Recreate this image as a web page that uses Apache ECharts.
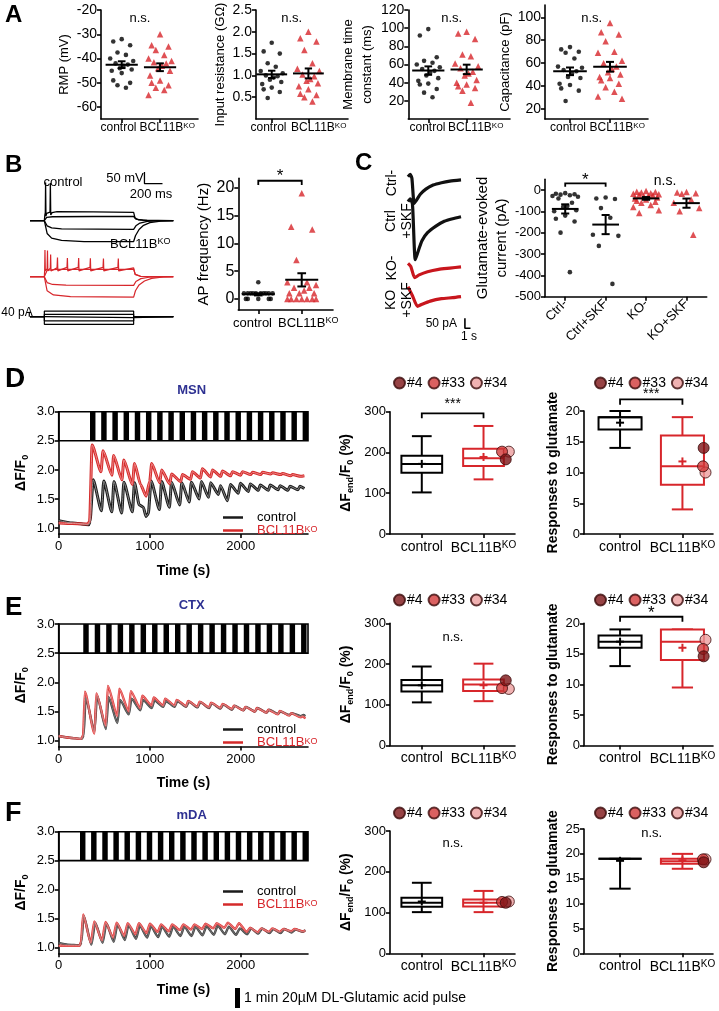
<!DOCTYPE html>
<html><head><meta charset="utf-8">
<script src="https://cdn.jsdelivr.net/npm/echarts@6/dist/echarts.min.js"></script>
<style>html,body{margin:0;padding:0;background:#fff}#c{width:719px;height:1011px}</style>
</head><body><div id="c"></div>
<script>
// ---------------- DATA ----------------
const groupsAB = ['control', 'BCL11B^KO'];
// Panel A
const rmpCtrl = [-32, -33, -34.5, -37.5, -38.5, -40, -41, -42, -42.5, -43, -44, -44.5, -45, -46, -49, -50, -51, -52];
const rmpKO = [-30, -34.5, -35, -36.5, -38.5, -40, -41, -41.5, -42, -43, -44, -45, -47, -49, -50, -51, -52, -53, -55];
const rinCtrl = [1.75, 1.55, 1.5, 1.28, 1.2, 1.1, 1.05, 1.0, 0.98, 0.95, 0.9, 0.85, 0.8, 0.72, 0.68, 0.62, 0.48];
const rinKO = [2.0, 1.85, 1.78, 1.58, 1.28, 1.15, 1.1, 1.02, 0.98, 0.92, 0.88, 0.82, 0.75, 0.68, 0.58, 0.55, 0.5, 0.4];
const tauCtrl = [99, 92, 68, 64, 62, 60, 57, 55, 53, 51, 48, 45, 42, 39, 38, 33, 29, 24];
const tauKO = [96, 94, 88, 71, 69, 61, 58, 56, 52, 50, 48, 43, 40, 38, 36, 34, 31, 18];
const capCtrl = [74, 72, 70, 69, 64, 57, 56, 54, 53, 51, 48, 47, 42, 41, 38, 36, 27];
const capKO = [95, 87, 85, 79, 70, 69, 62, 60, 57, 55, 52, 50, 48, 47, 45, 42, 39, 35, 31, 29];
// Panel B
const apCtrl = [3, 1, 1, 1, 1, 1, 1, 1, 1, 1, 1, 0, 0, 0, 0, 0];
const apKO = [19, 13, 12.5, 7, 3, 3, 2.5, 2, 2, 1.5, 1, 1, 1, 0, 0, 0, 0, 0, 0, 0];
const bCtrlTraces = [
  [[0,-70],[159,-70],[165,-45],[170,-35],[173,95],[177,-50],[185,-38],[222,-33],[226,92],[230,-45],[245,-35],[300,-31],[700,-32],[1150,-34],[1165,-58],[1200,-66],[1300,-69],[1590,-70]],
  [[0,-70],[159,-70],[185,-56],[250,-53],[700,-52],[1150,-52],[1175,-63],[1250,-68],[1590,-70]],
  [[0,-70],[159,-70],[190,-92],[240,-101],[350,-105],[1150,-107],[1175,-92],[1220,-80],[1300,-73],[1420,-70.5],[1590,-70]],
  [[0,-70],[159,-70],[190,-125],[240,-145],[350,-155],[600,-160],[1150,-160],[1170,-135],[1210,-108],[1260,-90],[1330,-78],[1450,-72],[1590,-70]]
];
const bKOTraces = [
  [[0,-70],[159,-70],[163,-40],[166,45],[170,-45],[190,-35],[194,42],[198,-45],[225,-33],[229,25],[233,-45],[300,-32],[305,12],[309,-45],[410,-30],[415,10],[419,-45],[535,-30],[540,10],[544,-45],[665,-30],[670,9],[674,-45],[810,-30],[815,8],[819,-45],[975,-30],[980,8],[984,-45],[1150,-32],[1165,-60],[1220,-68],[1590,-70]],
  [[0,-70],[159,-70],[190,-42],[300,-38],[1150,-38],[1170,-60],[1230,-68],[1590,-70]],
  [[0,-70],[159,-70],[190,-95],[250,-103],[400,-106],[1150,-107],[1175,-90],[1230,-78],[1320,-72],[1590,-70]],
  [[0,-70],[159,-70],[190,-130],[260,-148],[450,-155],[1150,-157],[1170,-130],[1210,-105],[1270,-88],[1350,-77],[1480,-71],[1590,-70]]
];
const bCurrentSteps = [45, 19, -8, -34, -61];   // pA
const bStepOnOff = [159, 1150, 1590];           // ms
const scaleB = {mV: 50, ms: 200, pA: 40};
// Panel C
const cCats = ['Ctrl-', 'Ctrl+SKF', 'KO-', 'KO+SKF'];
const cCtrl = [-15, -18, -20, -22, -25, -28, -32, -40, -60, -75, -80, -95, -100, -120, -135, -148, -200, -385];
const cCtrlSKF = [-35, -40, -42, -85, -130, -210, -215, -262, -440];
const cKO = [-5, -8, -10, -12, -15, -18, -20, -22, -25, -28, -30, -35, -40, -45, -50, -55, -60, -70, -80, -95, -108];
const cKOSKF = [-10, -12, -15, -18, -45, -60, -85, -100, -210];
const cTraceCtrl = [[0,0],[0.4,12],[0.7,-8],[1.1,-133],[1.5,-118],[2.2,-88],[3.2,-62],[4.5,-42],[6,-30],[7.5,-22],[9.5,-16]];
const cTraceCtrlSKF = [[0,0],[0.4,14],[0.8,-12],[1.3,-290],[1.8,-250],[2.5,-195],[3.5,-155],[5,-122],[6.5,-98],[8,-85],[9.5,-75]];
const cTraceKO = [[0,0],[0.5,-15],[1.2,-72],[2,-58],[3.5,-42],[5.5,-30],[7.5,-24],[9.5,-18]];
const cTraceKOSKF = [[0,0],[0.8,-45],[1.7,-98],[2.5,-88],[4,-72],[6,-60],[8,-55],[9.5,-50]];
const scaleC = {pA: 50, s: 1};
// Panels D-F: time courses (s, dF/F0)
const timeTicks = [0, 1000, 2000];
const pulseWidth = 60;
const msnPulses = [344,467,590,713,836,959,1082,1205,1328,1451,1574,1697,1820,1943,2066,2189,2312,2435,2558,2681];
const ctxPulses = [270,396,522,648,774,900,1026,1152,1278,1404,1530,1656,1782,1908,2034,2160,2286,2412,2538,2664];
const mdaPulses = [234,356,479,601,723,846,968,1090,1212,1335,1457,1579,1702,1824,1946,2069,2191,2313,2435,2558,2680];
const msnCtrlTrace = [[0,1.13],[150,1.09],[330,1.06],[345,1.12],[378,1.83],[470,1.3],[495,1.81],[585,1.28],[607,1.8],[693,1.26],[716,1.79],[810,1.28],[833,1.78],[885,1.4],[930,1.36],[960,1.2],[985,1.25],[1015,1.81],[1108,1.32],[1131,1.8],[1217,1.36],[1240,1.79],[1330,1.4],[1353,1.78],[1435,1.45],[1458,1.79],[1545,1.5],[1567,1.8],[1648,1.53],[1669,1.78],[1755,1.58],[1778,1.73],[1855,1.47],[1887,1.75],[1975,1.6],[1996,1.77],[2085,1.63],[2105,1.76],[2195,1.65],[2215,1.74],[2305,1.65],[2324,1.74],[2412,1.66],[2433,1.73],[2520,1.65],[2542,1.72],[2630,1.66],[2651,1.72],[2700,1.68]];
const msnKOTrace = [[0,1.09],[150,1.08],[320,1.07],[340,1.12],[367,2.43],[465,1.97],[487,2.33],[585,1.91],[604,2.25],[695,1.83],[716,2.17],[810,1.75],[833,2.11],[900,1.75],[960,1.55],[1000,1.8],[1022,2.11],[1110,1.78],[1131,2.0],[1220,1.76],[1240,1.93],[1340,1.8],[1360,1.92],[1450,1.84],[1469,1.97],[1558,1.86],[1578,2.02],[1670,1.88],[1690,2.0],[1780,1.89],[1800,1.98],[1890,1.9],[1910,1.97],[2000,1.91],[2020,1.97],[2110,1.92],[2130,1.96],[2220,1.92],[2240,1.96],[2330,1.93],[2350,1.95],[2440,1.92],[2460,1.94],[2550,1.9],[2570,1.92],[2660,1.89],[2700,1.9]];
const ctxCtrlTrace = [[0,1.08],[120,1.05],[255,1.03],[275,1.1],[296,1.74],[393,1.16],[422,1.77],[519,1.2],[548,1.75],[645,1.3],[674,1.7],[771,1.45],[800,1.72],[897,1.52],[926,1.7],[1023,1.56],[1052,1.69],[1149,1.58],[1178,1.68],[1275,1.58],[1304,1.68],[1401,1.58],[1430,1.67],[1527,1.57],[1556,1.66],[1653,1.56],[1682,1.64],[1779,1.55],[1808,1.62],[1905,1.53],[1934,1.6],[2031,1.52],[2060,1.58],[2157,1.5],[2186,1.56],[2283,1.48],[2312,1.53],[2409,1.46],[2438,1.5],[2535,1.44],[2564,1.47],[2661,1.42],[2690,1.44],[2710,1.42]];
const ctxKOTrace = [[0,1.08],[120,1.05],[250,1.03],[268,1.1],[288,1.84],[393,1.12],[414,1.81],[519,1.25],[540,1.94],[645,1.42],[666,1.89],[771,1.5],[792,1.85],[897,1.55],[918,1.77],[1023,1.6],[1044,1.74],[1149,1.6],[1170,1.72],[1275,1.6],[1296,1.7],[1401,1.59],[1422,1.68],[1527,1.58],[1548,1.67],[1653,1.57],[1674,1.65],[1779,1.56],[1800,1.63],[1905,1.54],[1926,1.6],[2031,1.52],[2052,1.58],[2157,1.5],[2178,1.56],[2283,1.48],[2304,1.53],[2409,1.45],[2430,1.51],[2535,1.43],[2556,1.47],[2661,1.4],[2682,1.42],[2710,1.38]];
const mdaCtrlTrace = [[0,1.08],[100,1.05],[235,1.04],[250,1.1],[274,1.55],[360,1.05],[401,1.43],[483,1.08],[524,1.42],[605,1.1],[646,1.4],[727,1.13],[768,1.39],[850,1.15],[891,1.38],[972,1.17],[1013,1.37],[1094,1.18],[1135,1.36],[1216,1.19],[1257,1.36],[1339,1.2],[1380,1.36],[1461,1.2],[1502,1.36],[1583,1.21],[1624,1.37],[1706,1.22],[1747,1.38],[1828,1.23],[1869,1.36],[1950,1.22],[1991,1.33],[2073,1.23],[2114,1.33],[2195,1.24],[2236,1.33],[2317,1.25],[2358,1.32],[2439,1.25],[2480,1.32],[2562,1.26],[2603,1.31],[2684,1.27],[2710,1.3]];
const mdaKOTrace = [[0,1.03],[230,1.03],[245,1.1],[269,1.57],[353,1.08],[391,1.45],[476,1.12],[514,1.44],[598,1.17],[636,1.43],[720,1.2],[758,1.42],[843,1.23],[881,1.42],[965,1.25],[1003,1.41],[1087,1.27],[1125,1.4],[1209,1.28],[1247,1.4],[1332,1.3],[1370,1.4],[1454,1.31],[1492,1.4],[1576,1.32],[1614,1.41],[1699,1.33],[1737,1.42],[1821,1.34],[1859,1.43],[1943,1.32],[1981,1.42],[2066,1.27],[2104,1.34],[2188,1.26],[2226,1.33],[2310,1.27],[2348,1.33],[2432,1.27],[2470,1.32],[2555,1.28],[2593,1.32],[2677,1.28],[2710,1.29]];
// Box stats: [min, q1, median, q3, max, mean]
const lineNames = ['#4', '#33', '#34'];
const msnDeltaCtrl = [102, 150, 172, 192, 240, 172];
const msnDeltaKO = [134, 167, 186, 209, 265, 189];
const msnDeltaLines = [183, 202, 202];
const msnRespCtrl = [14, 17, 19, 19, 20, 18.1];
const msnRespKO = [4, 8, 11, 16, 19, 11.8];
const msnRespLines = [14, 11, 10];
const ctxDeltaCtrl = [106, 133, 148, 161, 194, 148];
const ctxDeltaKO = [109, 134, 150, 162, 201, 148];
const ctxDeltaLines = [160, 141, 139];
const ctxRespCtrl = [13, 16, 17, 18, 19, 17];
const ctxRespKO = [9.5, 14, 17, 19, 19, 16];
const ctxRespLines = [14.6, 15.8, 17.3];
const mdaDeltaCtrl = [101, 114, 124, 136, 173, 127];
const mdaDeltaKO = [101, 115, 124, 132, 153, 124];
const mdaDeltaLines = [124, 126, 127];
const mdaRespCtrl = [13, 19, 19, 19, 19, 18.6];
const mdaRespKO = [17, 18, 18.5, 19, 20, 18.7];
const mdaRespLines = [18.3, 18.9, 18.9];

// ---------------- BUILD ----------------
const FONT = '"Liberation Sans", Arial, Helvetica, sans-serif';
const RED = '#d7262b';
const TRACE_RED = '#c8161d';
const DOT_COLORS = ['#7d1416', '#d23a3a', '#ec9d9d'];
const T_MAX = 2740;
const AXL = {color: '#000', width: 1.6};
const grids = [], xAxis = [], yAxis = [], series = [], graphic = [], legend = [];

function addGrid(l, t, r, b) {
  grids.push({left: l, top: t, width: r - l, height: b - t, containLabel: false, outerBoundsMode: 'none'});
  return grids.length - 1;
}
function supRich(fs, color, bold) {
  const fw = bold ? 'bold' : 'normal';
  const sfs = Math.round(fs * 0.68);
  return {
    n: {fontSize: fs, color, fontFamily: FONT, fontWeight: fw},
    s: {fontSize: sfs, color, fontFamily: FONT, fontWeight: fw, verticalAlign: 'top', padding: [0, 0, Math.round(fs * 0.42), 0]}
  };
}
function fmtSup(s) {
  if (s.indexOf('^') < 0) return s;
  const p = s.split('^');
  return '{n|' + p[0] + '}{s|' + p[1] + '}';
}
function hiddenAxes(g, xmin, xmax, ymin, ymax) {
  xAxis.push({type: 'value', gridIndex: g, min: xmin, max: xmax, show: false});
  yAxis.push({type: 'value', gridIndex: g, min: ymin, max: ymax, show: false});
}
function catAxisX(g, xmin, xmax, labels, fs, rotate, showLabels) {
  const vals = labels.map((_, i) => i + 1);
  xAxis.push({type: 'value', gridIndex: g, min: xmin, max: xmax,
    axisLine: {show: true, onZero: false, lineStyle: AXL},
    axisTick: {show: true, length: 4, lineStyle: AXL, customValues: vals},
    splitLine: {show: false},
    axisLabel: {show: showLabels !== false, customValues: vals, showMinLabel: true, showMaxLabel: true, hideOverlap: false,
      margin: rotate ? 5 : 6, rotate: rotate || 0, fontFamily: FONT, color: '#000', fontSize: fs,
      formatter: v => fmtSup(labels[Math.round(v) - 1]), rich: supRich(fs, '#000')}});
}
function valAxisY(g, o) {
  yAxis.push({type: 'value', gridIndex: g, min: o.min, max: o.max,
    axisLine: {show: true, onZero: false, lineStyle: AXL},
    axisTick: {show: true, length: 4, lineStyle: AXL, customValues: o.ticks},
    splitLine: {show: false},
    axisLabel: {customValues: o.ticks, showMinLabel: true, showMaxLabel: true, margin: 4, fontFamily: FONT, color: '#000', fontSize: o.fs,
      formatter: o.fmt || (v => String(v))},
    name: o.name, nameLocation: 'middle', nameGap: o.gap, nameRotate: 90,
    nameTextStyle: {fontFamily: FONT, fontSize: o.nfs, color: '#000', fontWeight: o.bold ? 'bold' : 'normal',
      lineHeight: o.nlh || Math.round(o.nfs * 1.2), rich: o.rich}});
}
const JIT = [0, -0.22, 0.22, -0.11, 0.11, -0.3, 0.3, -0.16, 0.16, 0.05, -0.05, 0.26, -0.26];
function scatterPts(g, vals, c, isKO, spread) {
  series.push({type: 'scatter', xAxisIndex: g, yAxisIndex: g, silent: true, z: 3,
    data: vals.map((v, i) => [c + JIT[i % JIT.length] * spread, v]),
    symbol: isKO ? 'triangle' : 'circle', symbolSize: isKO ? 6.5 : 4.6,
    itemStyle: {color: isKO ? RED : '#000'}});
}
function meanSem(g, c, vals, hw) {
  const n = vals.length, m = vals.reduce((a, b) => a + b, 0) / n;
  const sd = Math.sqrt(vals.reduce((a, b) => a + (b - m) * (b - m), 0) / (n - 1));
  series.push({type: 'custom', xAxisIndex: g, yAxisIndex: g, silent: true, z: 5, data: [[c, m, sd / Math.sqrt(n)]],
    renderItem: (p, api) => {
      const x = api.value(0), mm = api.value(1), s = api.value(2);
      const P = (a, b) => api.coord([a, b]);
      const L = (a, b) => ({type: 'line', shape: {x1: a[0], y1: a[1], x2: b[0], y2: b[1]}, style: {stroke: '#000', lineWidth: 2}});
      return {type: 'group', children: [
        L(P(x - hw, mm), P(x + hw, mm)), L(P(x, mm + s), P(x, mm - s)),
        L(P(x - 0.1, mm + s), P(x + 0.1, mm + s)), L(P(x - 0.1, mm - s), P(x + 0.1, mm - s))]};
    }});
}
function addBox(g, c, st, color, hw, cw) {
  series.push({type: 'custom', xAxisIndex: g, yAxisIndex: g, silent: true, z: 4, data: [[c].concat(st)],
    renderItem: (p, api) => {
      const x = api.value(0), mn = api.value(1), q1 = api.value(2), md = api.value(3), q3 = api.value(4), mx = api.value(5), me = api.value(6);
      const P = (a, b) => api.coord([a, b]);
      const L = (a, b) => ({type: 'line', shape: {x1: a[0], y1: a[1], x2: b[0], y2: b[1]}, style: {stroke: color, lineWidth: 2}});
      const tl = P(x - hw, q3), br = P(x + hw, q1), m = P(x, me);
      return {type: 'group', children: [
        L(P(x, mx), P(x, q3)), L(P(x, q1), P(x, mn)),
        L(P(x - cw, mx), P(x + cw, mx)), L(P(x - cw, mn), P(x + cw, mn)),
        {type: 'rect', shape: {x: tl[0], y: tl[1], width: br[0] - tl[0], height: br[1] - tl[1]}, style: {stroke: color, lineWidth: 2, fill: '#fff'}},
        L(P(x - hw, md), P(x + hw, md)),
        L([m[0] - 4, m[1]], [m[0] + 4, m[1]]), L([m[0], m[1] - 4], [m[0], m[1] + 4])]};
    }});
}
function addLineDots(g, c, vals, dx) {
  [2, 1, 0].forEach(i => {
    series.push({type: 'scatter', name: lineNames[i], xAxisIndex: g, yAxisIndex: g, silent: true, z: 6,
      data: [[c + dx[i], vals[i]]], symbol: 'circle', symbolSize: 11,
      itemStyle: {color: DOT_COLORS[i], borderColor: '#3a0a0a', borderWidth: 1}});
  });
}
function addBracket(g, x1, x2, yTop, yFoot, text, fs, off) {
  series.push({type: 'custom', xAxisIndex: g, yAxisIndex: g, silent: true, z: 5, data: [[x1, yTop, x2, yFoot]],
    renderItem: (p, api) => {
      const a = api.coord([api.value(0), api.value(3)]), b = api.coord([api.value(0), api.value(1)]);
      const c = api.coord([api.value(2), api.value(1)]), d = api.coord([api.value(2), api.value(3)]);
      return {type: 'group', children: [
        {type: 'polyline', shape: {points: [a, b, c, d]}, style: {stroke: '#000', lineWidth: 1.8, fill: null}},
        {type: 'text', style: {text, x: (b[0] + c[0]) / 2, y: b[1] - off, align: 'center', verticalAlign: 'middle',
          textAlign: 'center', textVerticalAlign: 'middle', fontSize: fs, fontFamily: FONT, fill: '#000'}}]};
    }});
}
function txt(x, y, text, o) {
  o = o || {};
  graphic.push({type: 'text', x, y, rotation: o.rot || 0, silent: true, z: 10,
    style: {text, fontFamily: FONT, fontSize: o.fs || 13, fontWeight: o.bold ? 'bold' : 'normal', fill: o.color || '#000',
      align: o.align || 'center', verticalAlign: o.va || 'middle', textAlign: o.align || 'center', textVerticalAlign: o.va || 'middle',
      rich: o.rich, lineHeight: o.lh}});
}
// group labels placed under tight axes (the two labels nearly touch there)
function groupLabels(ctrlCenterX, koLeftX, y, fs) {
  txt(ctrlCenterX, y, groupsAB[0], {fs});
  txt(koLeftX, y, fmtSup(groupsAB[1]), {fs, align: 'left', rich: supRich(fs, '#000')});
}

// ---------- Panel A ----------
function scatterPanel(l, r, t, b, xmin, xmax, ymin, ymax, ticks, fmt, ctrl, ko, name, gap, nlh) {
  const g = addGrid(l, t, r, b);
  catAxisX(g, xmin, xmax, groupsAB, 12, 0, false);
  valAxisY(g, {min: ymin, max: ymax, ticks, fs: 14, fmt, name, gap, nfs: 13, nlh});
  scatterPts(g, ctrl, 1, false, 1);
  scatterPts(g, ko, 2, true, 1);
  meanSem(g, 1, ctrl, 0.42);
  meanSem(g, 2, ko, 0.42);
  return g;
}
scatterPanel(101, 198, 10, 119, 0.46, 2.99, -64.9, -20, [-60, -50, -40, -30, -20], null, rmpCtrl, rmpKO, 'RMP (mV)', 26);
scatterPanel(256, 348, 10, 119, 0.571, 3.08, 0, 2.5, [0.5, 1.0, 1.5, 2.0, 2.5], v => v.toFixed(1), rinCtrl, rinKO, 'Input resistance (GΩ)', 28);
scatterPanel(408.3, 510, 10, 119, 0.479, 3.13, 0, 120, [20, 40, 60, 80, 100, 120], null, tauCtrl, tauKO, 'Membrane time\nconstant (ms)', 22, 19);
scatterPanel(545, 648, 5, 119, 0.375, 2.95, 11.3, 110.7, [20, 40, 60, 80, 100], null, capCtrl, capKO, 'Capacitance (pF)', 22);
groupLabels(118.5, 139.5, 128, 12);
groupLabels(268.5, 291, 128, 12);
groupLabels(427.5, 448, 128, 12);
groupLabels(568, 589.5, 128, 12);
txt(140, 18, 'n.s.'); txt(291.7, 18, 'n.s.'); txt(451.7, 18, 'n.s.'); txt(591.7, 18, 'n.s.');

// ---------- Panel B ----------
let g = addGrid(30, 172, 173.3, 252); hiddenAxes(g, 0, 1590, -205, 140);
bCtrlTraces.forEach(d => series.push({type: 'line', xAxisIndex: g, yAxisIndex: g, data: d, symbol: 'none', silent: true, lineStyle: {color: '#000', width: 1.3}}));
series.push({type: 'line', xAxisIndex: g, yAxisIndex: g, symbol: 'none', silent: true, lineStyle: {color: '#000', width: 1.3},
  data: [[1270, 90 + scaleB.mV], [1270, 90], [1270 + scaleB.ms, 90]]});
g = addGrid(30, 235, 173.3, 305); hiddenAxes(g, 0, 1590, -191, 109);
bKOTraces.forEach(d => series.push({type: 'line', xAxisIndex: g, yAxisIndex: g, data: d, symbol: 'none', silent: true, lineStyle: {color: RED, width: 1.2}}));
g = addGrid(25, 304.2, 173.3, 329.2); hiddenAxes(g, -55.6, 1590, -100, 100);
bCurrentSteps.forEach(L => series.push({type: 'line', xAxisIndex: g, yAxisIndex: g, symbol: 'none', silent: true, lineStyle: {color: '#000', width: 1.2},
  data: [[0, 0], [bStepOnOff[0], 0], [bStepOnOff[0], L], [bStepOnOff[1], L], [bStepOnOff[1], 0], [bStepOnOff[2], 0]]}));
series.push({type: 'line', xAxisIndex: g, yAxisIndex: g, symbol: 'none', silent: true, lineStyle: {color: '#000', width: 1.2},
  data: [[-8, 0], [-8, scaleB.pA]]});
txt(63, 182, 'control', {fs: 13});
txt(125, 178, '50 mV', {fs: 13});
txt(151, 194, '200 ms', {fs: 13});
txt(110, 244, '{n|BCL11B}{s|KO}', {fs: 13, align: 'left', rich: supRich(13, RED)});
txt(17, 313, '40 pA', {fs: 12});

g = addGrid(238.3, 178.3, 333, 310);
catAxisX(g, 0.54, 2.72, groupsAB, 13, 0, false);
valAxisY(g, {min: -2, max: 21.7, ticks: [0, 5, 10, 15, 20], fs: 16, name: 'AP frequency (Hz)', gap: 24, nfs: 15});
scatterPts(g, apCtrl, 1, false, 1.1);
scatterPts(g, apKO, 2, true, 1.1);
meanSem(g, 1, apCtrl, 0.38);
meanSem(g, 2, apKO, 0.38);
addBracket(g, 1, 2, 21.26, 20.5, '*', 17, 4);
groupLabels(252.5, 278, 323, 13);

// ---------- Panel C ----------
function cTrace(top, bottom, base, xmaxPx, data, color) {
  const gg = addGrid(408, top, xmaxPx, bottom);
  hiddenAxes(gg, 0, (xmaxPx - 408) / 5.58, -(bottom - base) * 5, (base - top) * 5);
  series.push({type: 'line', xAxisIndex: gg, yAxisIndex: gg, data, symbol: 'none', silent: true, smooth: 0.2, lineStyle: {color, width: 3.2}});
  return gg;
}
cTrace(165, 215, 176.7, 461, cTraceCtrl, '#111');
cTrace(190, 265, 201.7, 461, cTraceCtrlSKF, '#111');
cTrace(255, 285, 263.3, 461, cTraceKO, TRACE_RED);
g = cTrace(278, 330, 286.7, 475, cTraceKOSKF, TRACE_RED);
series.push({type: 'line', xAxisIndex: g, yAxisIndex: g, symbol: 'none', silent: true, lineStyle: {color: '#000', width: 1.6},
  data: [[10.2, -208 + scaleC.pA], [10.2, -208], [10.2 + scaleC.s, -208]]});
txt(457, 323.5, '50 pA', {fs: 12, align: 'right'});
txt(469, 337, '1 s', {fs: 12});
txt(392.5, 183, 'Ctrl-', {fs: 14, rot: Math.PI / 2});
txt(399, 221, 'Ctrl\n+SKF', {fs: 14, rot: Math.PI / 2, lh: 16});
txt(392.5, 268, 'KO-', {fs: 14, rot: Math.PI / 2});
txt(399, 300, 'KO\n+SKF', {fs: 14, rot: Math.PI / 2, lh: 16});

g = addGrid(545, 179.3, 706.7, 296.7);
catAxisX(g, 0.5, 4.5, cCats, 13, 45);
valAxisY(g, {min: -500, max: 50, ticks: [-500, -400, -300, -200, -100, 0], fs: 13, name: 'Glutamate-evoked\ncurrent (pA)', gap: 31, nfs: 15, nlh: 19});
scatterPts(g, cCtrl, 1, false, 1.05);
scatterPts(g, cCtrlSKF, 2, false, 1.05);
scatterPts(g, cKO, 3, true, 1.05);
scatterPts(g, cKOSKF, 4, true, 1.05);
meanSem(g, 1, cCtrl, 0.33); meanSem(g, 2, cCtrlSKF, 0.33); meanSem(g, 3, cKO, 0.33); meanSem(g, 4, cKOSKF, 0.33);
addBracket(g, 1, 2, 31, 15, '*', 17, 3);
txt(665, 181, 'n.s.', {fs: 14});

// ---------- Panels D-F ----------
const dffRich = {a: {fontSize: 14, fontWeight: 'bold', fontFamily: FONT, color: '#000'},
  b: {fontSize: 9, fontWeight: 'bold', fontFamily: FONT, color: '#000', verticalAlign: 'bottom', padding: [7, 0, 0, 0]}};
function tracePanel(top, bottom, pulses, ctrl, ko, style) {
  const gg = addGrid(58.7, top, 308, bottom);
  xAxis.push({type: 'value', gridIndex: gg, min: 0, max: T_MAX,
    axisLine: {show: true, onZero: false, lineStyle: AXL}, axisTick: {show: true, length: 4, lineStyle: AXL, customValues: timeTicks},
    splitLine: {show: false},
    axisLabel: {customValues: timeTicks, fontFamily: FONT, fontSize: 13, color: '#000', margin: 6, formatter: v => String(v)},
    name: 'Time (s)', nameLocation: 'middle', nameGap: 30,
    nameTextStyle: {fontFamily: FONT, fontSize: 14, fontWeight: 'bold', color: '#000'}});
  valAxisY(gg, {min: 0.9, max: 3.0, ticks: [1, 1.5, 2, 2.5, 3], fs: 13, fmt: v => v.toFixed(1),
    name: '{a|ΔF/F}{b|0}', gap: 29, nfs: 14, bold: true, rich: dffRich});
  series.push({type: 'custom', xAxisIndex: gg, yAxisIndex: gg, silent: true, z: 2, data: pulses.map(p => [p]),
    renderItem: (p, api) => {
      const s = api.value(0);
      const a = api.coord([s, 3.0]), b = api.coord([Math.min(s + pulseWidth, T_MAX), 2.5]);
      return {type: 'rect', shape: {x: a[0], y: a[1], width: b[0] - a[0], height: b[1] - a[1]}, style: {fill: '#000'}};
    }});
  series.push({type: 'custom', xAxisIndex: gg, yAxisIndex: gg, silent: true, z: 3, data: [[0]],
    renderItem: (p, api) => {
      const a = api.coord([0, 3.0]), b = api.coord([T_MAX, 2.5]);
      return {type: 'rect', shape: {x: a[0], y: a[1], width: b[0] - a[0], height: b[1] - a[1]}, style: {fill: null, stroke: '#000', lineWidth: 1.6}};
    }});
  [[ctrl, 'control', style.c1, style.c2], [ko, 'KO', style.r1, style.r2]].forEach(([d, nm, c1, c2]) => {
    series.push({type: 'line', name: nm, xAxisIndex: gg, yAxisIndex: gg, data: d, symbol: 'none', silent: true, smooth: 0.2, smoothMonotone: 'x',
      lineStyle: {color: c1, width: style.w}, itemStyle: {color: c1}, z: 4});
    series.push({type: 'line', name: nm + '_core', xAxisIndex: gg, yAxisIndex: gg, data: d, symbol: 'none', silent: true, smooth: 0.2, smoothMonotone: 'x',
      lineStyle: {color: c2, width: 1}, z: 5});
  });
  return gg;
}
function traceLegend(top) {
  legend.push({left: 218, top, orient: 'vertical', itemGap: 0, itemWidth: 20, itemHeight: 2.5, icon: 'rect', selectedMode: false,
    data: [{name: 'control'}, {name: 'KO', textStyle: {color: RED}}],
    formatter: n => n === 'KO' ? '{n|BCL11B}{s|KO}' : n,
    textStyle: {fontFamily: FONT, fontSize: 13, color: '#000', lineHeight: 11.5, padding: [0, 0, 0, 9], rich: supRich(13, RED)}});
}
function dotLegend(left, top) {
  legend.push({left, top, itemGap: 5, itemWidth: 11, itemHeight: 11, icon: 'circle', selectedMode: false,
    data: lineNames, textStyle: {fontFamily: FONT, fontSize: 14, color: '#000', padding: [0, 0, 0, -3]}});
}
const deltaRich = {a: {fontSize: 14, fontWeight: 'bold', fontFamily: FONT, color: '#000'},
  b: {fontSize: 9, fontWeight: 'bold', fontFamily: FONT, color: '#000', verticalAlign: 'bottom', padding: [7, 0, 0, 0]}};
function boxPanels(top, rTop, rMax, rTicks, dCtrl, dKO, dLines, rCtrl, rKO, rLines) {
  let gm = addGrid(390, top, 515, top + 122.3);
  catAxisX(gm, 0.485, 2.51, groupsAB, 14);
  valAxisY(gm, {min: 0, max: 300, ticks: [0, 100, 200, 300], fs: 13, name: '{a|ΔF}{b|end}{a|/F}{b|0}{a| (%)}', gap: 35, nfs: 14, bold: true, rich: deltaRich});
  addBox(gm, 1, dCtrl, '#000', 0.33, 0.16);
  addBox(gm, 2, dKO, RED, 0.33, 0.16);
  addLineDots(gm, 2, dLines, [0.36, 0.3, 0.41]);
  let gr = addGrid(584, rTop, 713, top + 122.3);
  catAxisX(gr, 0.422, 2.49, groupsAB, 14);
  valAxisY(gr, {min: 0, max: rMax, ticks: rTicks, fs: 13, name: 'Responses to glutamate', gap: 21, nfs: 14, bold: true});
  addBox(gr, 1, rCtrl, '#000', 0.345, 0.17);
  addBox(gr, 2, rKO, RED, 0.345, 0.17);
  addLineDots(gr, 2, rLines, [0.34, 0.33, 0.37]);
  return [gm, gr];
}
const tracePlain = {c1: '#1a1a1a', c2: '#8a8a8a', r1: '#d42a2a', r2: '#ef8a8a', w: 3};
const traceSoft = {c1: '#444', c2: '#777', r1: '#dd4040', r2: '#ee8080', w: 2.4};

// D
tracePanel(411.7, 534, msnPulses, msnCtrlTrace, msnKOTrace, tracePlain);
traceLegend(506);
let bp = boxPanels(411.7, 411, 20, [0, 5, 10, 15, 20], msnDeltaCtrl, msnDeltaKO, msnDeltaLines, msnRespCtrl, msnRespKO, msnRespLines);
addBracket(bp[0], 1, 2, 296, 284, '***', 14, 9);
addBracket(bp[1], 1, 2, 21.9, 21.0, '***', 14, 5);
dotLegend(388, 371); dotLegend(589, 371);
txt(191.7, 390, 'MSN', {fs: 13, bold: true, color: '#2e3192'});
// E
tracePanel(624, 746.5, ctxPulses, ctxCtrlTrace, ctxKOTrace, traceSoft);
traceLegend(718);
bp = boxPanels(623.3, 623.3, 20, [0, 5, 10, 15, 20], ctxDeltaCtrl, ctxDeltaKO, ctxDeltaLines, ctxRespCtrl, ctxRespKO, ctxRespLines);
addBracket(bp[1], 1, 2, 21.07, 20.25, '*', 17, 3);
dotLegend(388, 588); dotLegend(589, 588);
txt(453, 637, 'n.s.', {fs: 13});
txt(191.7, 605.7, 'CTX', {fs: 13, bold: true, color: '#2e3192'});
// F
tracePanel(831.7, 953.3, mdaPulses, mdaCtrlTrace, mdaKOTrace, traceSoft);
traceLegend(880);
bp = boxPanels(831, 829, 25, [0, 5, 10, 15, 20, 25], mdaDeltaCtrl, mdaDeltaKO, mdaDeltaLines, mdaRespCtrl, mdaRespKO, mdaRespLines);
dotLegend(388, 801); dotLegend(589, 801);
txt(453, 843, 'n.s.', {fs: 13});
txt(651.7, 833, 'n.s.', {fs: 13});
txt(191.7, 815, 'mDA', {fs: 13, bold: true, color: '#2e3192'});

// caption
graphic.push({type: 'rect', shape: {x: 235, y: 988, width: 5, height: 20}, style: {fill: '#000'}, silent: true});
txt(244, 998, '1 min 20µM DL-Glutamic acid pulse', {fs: 14, align: 'left'});

// panel letters
[['A', 5, 3, 24], ['B', 5, 153, 24], ['C', 355, 151, 24], ['D', 5, 365, 28], ['E', 5, 595, 26], ['F', 5, 800, 27]].forEach(([t, x, y, fs]) =>
  txt(x, y, t, {fs, bold: true, align: 'left', va: 'top'}));

const chart = echarts.init(document.getElementById('c'), null, {renderer: 'canvas'});
chart.setOption({animation: false, backgroundColor: '#fff', textStyle: {fontFamily: FONT},
  grid: grids, xAxis, yAxis, series, legend, graphic: {elements: graphic}});
</script></body></html>
